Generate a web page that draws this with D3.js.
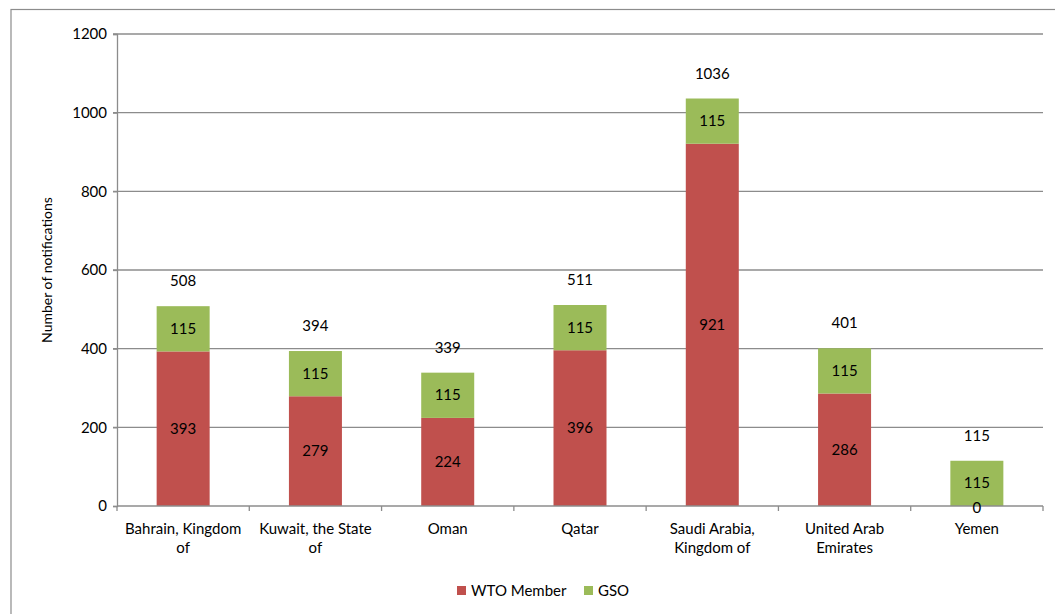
<!DOCTYPE html>
<html><head><meta charset="utf-8">
<script src="https://cdn.jsdelivr.net/npm/d3@7"></script>
<style>body{margin:0;background:#fff;}svg{display:block;font-family:Lato,"Open Sans",sans-serif;}</style>
</head><body><svg id="c" width="1055" height="614"></svg>
<script>
const categories = ["Bahrain, Kingdom|of","Kuwait, the State|of","Oman","Qatar","Saudi Arabia,|Kingdom of","United Arab|Emirates","Yemen"];
const wto = [393,279,224,396,921,286,0];
const gso = [115,115,115,115,115,115,115];
const yTicks = [0,200,400,600,800,1000,1200];
const seriesNames = ["WTO Member","GSO"];
const colors = ["#C0504D","#9BBB59"];

const FS = 15;
const svg = d3.select("#c");
svg.append("rect").attr("x",11).attr("y",9.5).attr("width",1060).attr("height",620)
  .attr("fill","none").attr("stroke","#8c8c8c").attr("stroke-width",1.2);

const L=117, R=1043, T=34, B=506;
const x = d3.scaleBand().domain(d3.range(categories.length)).range([L,R]).paddingInner(0).paddingOuter(0);
const y = d3.scaleLinear().domain([0,1200]).range([B,T]);

svg.append("g").selectAll("line").data(yTicks.slice(1)).join("line")
  .attr("x1",L-4).attr("x2",R).attr("y1",d=>y(d)).attr("y2",d=>y(d))
  .attr("stroke","#8c8c8c").attr("stroke-width",1.3);

const yAxis = d3.axisLeft(y).tickValues(yTicks).tickSize(4).tickFormat(d3.format("d"));
const gy = svg.append("g").attr("transform",`translate(${L},0)`).call(yAxis);
gy.select(".domain").attr("stroke","#8c8c8c").attr("stroke-width",1.3);
gy.selectAll(".tick line").attr("stroke","#8c8c8c").attr("stroke-width",1.3);
gy.selectAll("text").attr("font-size",FS).attr("fill","#000").attr("font-family","Lato,sans-serif").attr("dx",-3);

svg.append("text").attr("transform",`translate(52,${(T+B)/2}) rotate(-90)`).attr("text-anchor","middle")
  .attr("font-size",14).attr("fill","#000").text("Number of notifications");

const bw = 53;
const stack = categories.map((c,i)=>({i, w:wto[i], g:gso[i]}));
const bars = svg.append("g");
stack.forEach(d=>{
  const cx = x(d.i)+x.bandwidth()/2;
  if(d.w>0) bars.append("rect").attr("x",cx-bw/2).attr("width",bw).attr("y",y(d.w)).attr("height",y(0)-y(d.w)).attr("fill",colors[0]);
  bars.append("rect").attr("x",cx-bw/2).attr("width",bw).attr("y",y(d.w+d.g)).attr("height",y(d.w)-y(d.w+d.g)).attr("fill",colors[1]);
});

const gx = svg.append("g").attr("transform",`translate(0,${B})`);
gx.append("line").attr("x1",L).attr("x2",R).attr("stroke","#8c8c8c").attr("stroke-width",1.3);
gx.selectAll(".tk").data(d3.range(categories.length+1)).join("line")
  .attr("x1",i=>L+i*x.bandwidth()).attr("x2",i=>L+i*x.bandwidth()).attr("y1",0).attr("y2",5)
  .attr("stroke","#8c8c8c").attr("stroke-width",1.3);
categories.forEach((c,i)=>{
  const cx = x(i)+x.bandwidth()/2;
  const t = gx.append("text").attr("text-anchor","middle").attr("font-size",FS).attr("fill","#000");
  c.split("|").forEach((line,k)=>t.append("tspan").attr("x",cx).attr("y",28+k*19).text(line));
});

const lab = svg.append("g").attr("font-size",FS).attr("fill","#000").attr("text-anchor","middle");
stack.forEach(d=>{
  const cx = x(d.i)+x.bandwidth()/2;
  lab.append("text").attr("x",cx).attr("y",d.w===0 ? y(0)+7 : (y(0)+y(d.w))/2+5).text(d.w);
  lab.append("text").attr("x",cx).attr("y",(y(d.w)+y(d.w+d.g))/2+5).text(d.g);
  lab.append("text").attr("x",cx).attr("y",y(d.w+d.g)-20).text(d.w+d.g);
});

const lg = svg.append("g");
const items = [{n:seriesNames[0],c:colors[0],x:457},{n:seriesNames[1],c:colors[1],x:584}];
items.forEach(it=>{
  lg.append("rect").attr("x",it.x).attr("y",586).attr("width",9).attr("height",9).attr("fill",it.c);
  lg.append("text").attr("x",it.x+14).attr("y",595.5).attr("font-size",FS).attr("fill","#000").text(it.n);
});
</script></body></html>
